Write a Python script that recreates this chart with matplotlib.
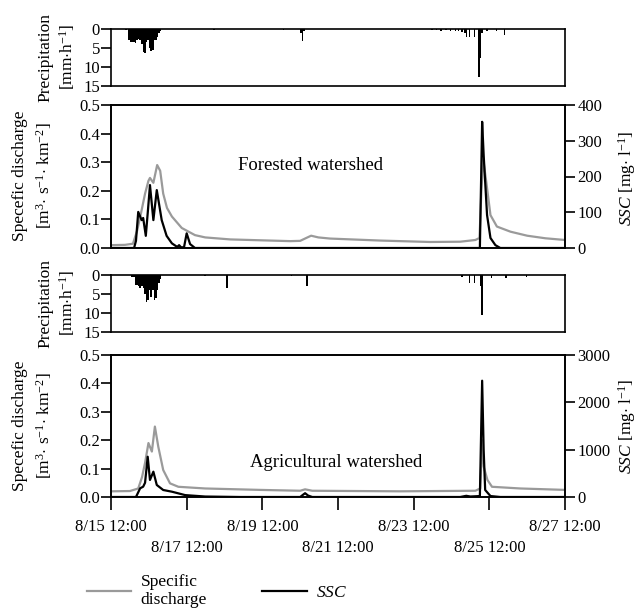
import numpy as np
import matplotlib
matplotlib.use("Agg")
import matplotlib.pyplot as plt
from matplotlib.ticker import FormatStrFormatter
from matplotlib.lines import Line2D

plt.rcParams['font.family'] = ['Liberation Serif', 'DejaVu Serif']
plt.rcParams['mathtext.fontset'] = 'custom'
plt.rcParams['mathtext.rm'] = 'Liberation Serif'
plt.rcParams['mathtext.it'] = 'Liberation Serif:italic'
plt.rcParams['axes.linewidth'] = 1.2

# ---- data (x = days since 8/15 12:00) ----
# forested watershed: specific discharge [m3 s-1 km-2]
for_q_t = [0, 0.37, 0.58, 0.69, 0.79, 0.90, 0.99, 1.03, 1.12, 1.22, 1.30, 1.38, 1.48,
           1.61, 1.87, 2.22, 2.49, 3.15, 3.94, 4.74, 5.0, 5.16, 5.29, 5.48, 5.79, 7.12,
           8.44, 9.23, 9.63, 9.74, 9.79, 9.84, 9.92, 10.03, 10.20, 10.56, 11.0, 11.48, 12.0]
for_q = [0.010, 0.011, 0.015, 0.06, 0.12, 0.19, 0.235, 0.245, 0.228, 0.29, 0.27, 0.19, 0.14,
         0.11, 0.07, 0.045, 0.037, 0.03, 0.027, 0.024, 0.025, 0.035, 0.043, 0.037, 0.033, 0.026,
         0.021, 0.022, 0.028, 0.035, 0.20, 0.31, 0.23, 0.115, 0.075, 0.057, 0.043, 0.034, 0.028]
# forested watershed: SSC [mg l-1]
for_ssc_t = [0, 0.61, 0.66, 0.72, 0.81, 0.85, 0.92, 0.98, 1.03, 1.12, 1.21, 1.34, 1.47, 1.61,
             1.75, 1.80, 1.85, 1.93, 2.00, 2.09, 2.22, 9.75, 9.81, 9.85, 9.89, 9.94, 10.03,
             10.16, 10.29, 12.0]
for_ssc = [0, 0, 20, 101, 78, 84, 34, 110, 176, 78, 162, 78, 34, 13,
           3, 8, 2, 2, 41, 11, 0, 0, 353, 260, 185, 92, 28,
           8, 0, 0]
# agricultural watershed: specific discharge
agr_q_t = [0, 0.5, 0.72, 0.82, 0.90, 0.99, 1.08, 1.16, 1.25, 1.38, 1.56, 1.78, 2.49, 3.94,
           5.0, 5.13, 5.32, 7.65, 9.63, 9.76, 9.81, 9.85, 9.95, 10.07, 10.82, 12.0]
agr_q = [0.020, 0.021, 0.03, 0.07, 0.12, 0.19, 0.16, 0.248, 0.177, 0.095, 0.048, 0.036, 0.03, 0.025,
         0.022, 0.027, 0.022, 0.02, 0.022, 0.03, 0.20, 0.107, 0.06, 0.036, 0.03, 0.025]
# agricultural watershed: SSC
agr_ssc_t = [0, 0.66, 0.77, 0.85, 0.90, 0.97, 1.03, 1.12, 1.21, 1.38, 1.61, 1.96, 2.49, 3.41,
             5.0, 5.08, 5.13, 5.21, 5.32, 9.23, 9.39, 9.50, 9.75, 9.81, 9.85, 9.89, 10.03,
             10.29, 12.0]
agr_ssc = [0, 0, 184, 218, 300, 851, 360, 535, 254, 148, 112, 40, 10, 0,
           0, 50, 80, 30, 0, 0, 25, 10, 20, 2457, 993, 148, 20,
           0, 0]

# hourly precipitation [mm h-1], hour index since 8/15 12:00
for_p_hour = [9, 11, 12, 13, 14, 15, 16, 17, 18, 19, 20, 21, 22, 23, 24, 25, 26, 27, 28, 29,
              30, 31, 65, 109, 120, 121, 122, 203, 206, 209, 212, 215, 218, 220, 222, 224,
              225, 227, 230, 233, 234, 235, 238, 244, 249]
for_p = [0.3, 3.0, 3.3, 3.3, 3.5, 3.7, 3.0, 2.5, 3.0, 4.0, 6.0, 6.4, 3.5, 3.0, 5.0, 5.8, 5.5,
         3.0, 2.8, 2.0, 1.0, 0.5, 0.3, 0.3, 1.0, 3.2, 0.5, 0.3, 0.3, 0.4, 0.3, 0.4, 0.5, 0.6,
         0.8, 1.0, 2.0, 2.2, 2.0, 12.5, 7.7, 1.0, 0.5, 0.5, 1.6]
agr_p_hour = [13, 14, 15, 16, 17, 18, 19, 20, 21, 22, 23, 24, 25, 26, 27, 28, 29, 30, 31,
              59, 73, 114, 124, 222, 227, 230, 234, 235, 241, 250, 263]
agr_p = [0.5, 0.5, 2.5, 2.6, 3.0, 3.4, 3.0, 3.5, 5.0, 7.0, 6.5, 4.0, 5.7, 4.0, 6.6, 6.0, 4.0,
         2.0, 1.0, 0.3, 3.5, 0.3, 3.0, 0.4, 2.0, 2.0, 3.0, 10.5, 0.8, 0.8, 0.5]

date_ticks = [0, 2, 4, 6, 8, 10, 12]
date_labels = ["8/15 12:00", "8/17 12:00", "8/19 12:00", "8/21 12:00",
               "8/23 12:00", "8/25 12:00", "8/27 12:00"]

GRAY = "#9a9a9a"
W, H = 638, 613
fig = plt.figure(figsize=(W / 100, H / 100), dpi=100)


def rect(x0, y0, x1, y1):
    return [x0 / W, 1 - y1 / H, (x1 - x0) / W, (y1 - y0) / H]


def tickstyle(ax, **kw):
    ax.tick_params(direction='out', length=7, width=1.2, labelsize=12, **kw)


def precip_panel(r, hours, vals):
    ax = fig.add_axes(r)
    ax.bar(np.array(hours) / 24, vals, width=1 / 24, color='black', linewidth=0, align='edge')
    ax.set_xlim(0, 12)
    ax.set_ylim(15, 0)
    ax.set_yticks([0, 5, 10, 15])
    ax.set_xticks([])
    tickstyle(ax, pad=1)
    return ax


def flow_panel(r, qt, q, st, s, smax, sticks):
    ax = fig.add_axes(r)
    ax.plot(qt, q, color=GRAY, lw=1.6)
    ax.set_xlim(0, 12)
    ax.set_ylim(0, 0.5)
    ax.set_yticks(np.arange(0, 0.51, 0.1))
    ax.yaxis.set_major_formatter(FormatStrFormatter('%.1f'))
    tickstyle(ax, pad=1)
    ax2 = ax.twinx()
    ax2.plot(st, s, color='black', lw=1.6)
    ax2.set_ylim(0, smax)
    ax2.set_yticks(sticks)
    tickstyle(ax2, pad=2)
    ax2.set_xlim(0, 12)
    return ax, ax2


# forested
precip_panel(rect(111, 29, 565, 86), for_p_hour, for_p)
axq1, _ = flow_panel(rect(111, 105, 565, 248), for_q_t, for_q, for_ssc_t, for_ssc,
                     400, [0, 100, 200, 300, 400])
axq1.set_xticks([])
axq1.text(5.28, 0.29, "Forested watershed", fontsize=13.5, ha='center', va='center')

# agricultural
precip_panel(rect(111, 275, 565, 332), agr_p_hour, agr_p)
axq2, _ = flow_panel(rect(111, 355, 565, 497), agr_q_t, agr_q, agr_ssc_t, agr_ssc,
                     3000, [0, 1000, 2000, 3000])
axq2.text(5.95, 0.12, "Agricultural watershed", fontsize=13.5, ha='center', va='center')
axq2.set_xticks(date_ticks)
axq2.set_xticklabels([lab if i % 2 == 0 else "\n" + lab for i, lab in enumerate(date_labels)])
axq2.tick_params(axis='x', length=9, pad=6.5)
for lbl in axq2.get_xticklabels():
    lbl.set_linespacing(1.45)

# axis labels
def ftext(x, y, s, **kw):
    fig.text(x / W, 1 - y / H, s, rotation=90, ha='center', va='center', fontsize=12.5, **kw)

for yc in (57, 303):
    ftext(45, yc, "Precipitation")
    ftext(67, yc, "[mm$\\cdot$h$^{-1}$]")
for yc in (176, 426):
    ftext(20, yc, "Specefic discharge")
    ftext(44, yc, "[m$^{3}$$\\cdot$ s$^{-1}$$\\cdot$ km$^{-2}$]")
ftext(627, 178, "$SSC$ [mg$\\cdot$ l$^{-1}$]")
ftext(627, 426, "$SSC$ [mg$\\cdot$ l$^{-1}$]")

handles = [Line2D([], [], color=GRAY, lw=1.6), Line2D([], [], color='black', lw=1.6)]
fig.legend(handles, ["Specific\ndischarge", "$SSC$"], loc='center',
           bbox_to_anchor=(217 / W, 1 - 591 / H), ncol=2, frameon=False, fontsize=12.5,
           handlelength=2.55, handletextpad=0.55, columnspacing=3.2)

fig.savefig("out.png", dpi=100)
